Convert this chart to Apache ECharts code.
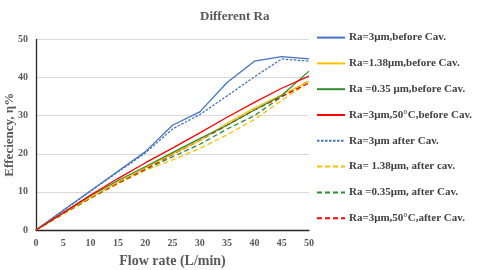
<!DOCTYPE html>
<html><head><meta charset="utf-8">
<script src="https://cdn.jsdelivr.net/npm/echarts@6/dist/echarts.min.js"></script>
<style>html,body{margin:0;padding:0;background:#fff}#c{width:480px;height:270px}</style>
</head><body><div id="c"></div>
<script>
const flow = [0,5,10,15,20,25,30,35,40,45,50];
const ra3Before    = [0,5.2,10.3,15.4,20.5,27.5,31.0,38.7,44.3,45.5,44.9];
const ra138Before  = [0,4.4,8.6,12.6,16.3,20.0,23.5,28.0,32.0,35.5,39.0];
const ra035Before  = [0,4.5,9.0,13.0,16.6,20.3,24.0,27.5,31.5,35.3,41.7];
const ra3T50Before = [0,4.6,9.2,13.5,17.6,21.5,25.5,29.6,33.5,37.2,40.4];
const ra3After     = [0,5.1,10.2,15.2,20.2,26.5,30.3,35.2,40.2,44.9,44.3];
const ra138After   = [0,4.2,8.3,12.1,15.6,18.4,21.4,25.0,29.0,34.0,38.8];
const ra035After   = [0,4.3,8.4,12.3,15.9,19.2,22.5,26.5,30.0,35.0,39.2];
const ra3T50After  = [0,4.3,8.5,12.4,16.0,19.8,23.5,27.5,31.5,35.0,38.6];
const names = [
  "Ra=3μm,before Cav.",
  "Ra=1.38μm,before Cav.",
  "Ra =0.35 μm,before Cav.",
  "Ra=3μm,50°C,before Cav.",
  "Ra=3μm after Cav.",
  "Ra= 1.38μm, after cav.",
  "Ra =0.35μm, after Cav.",
  "Ra=3μm,50°C,after Cav."
];
const seriesData = [ra3Before, ra138Before, ra035Before, ra3T50Before, ra3After, ra138After, ra035After, ra3T50After];
const colors = ['#4472C4','#FFC000','#2E8B2E','#FF0000','#4472C4','#FFC000','#2E8B2E','#FF0000'];
const dashes = ['solid','solid','solid','solid',[2.5,1.5],[5,3],[5,3],[5,3]];
const font = 'Liberation Serif';
const chart = echarts.init(document.getElementById('c'));
chart.setOption({
  animation:false,
  title:{text:'Different Ra',left:195,top:5,
    textStyle:{fontFamily:font,fontWeight:'bold',fontSize:13,color:'#595959'}},
  grid:{left:36,right:171,top:39.5,bottom:40,outerBoundsMode:'none',containLabel:false},
  legend:{orient:'vertical',left:311,top:27,itemWidth:28,itemHeight:14,itemGap:14.6,
    data:names,itemStyle:{opacity:0},
    textStyle:{fontFamily:font,fontWeight:'bold',fontSize:11,color:'#404040',padding:[0,0,0,-1]}},
  xAxis:{type:'value',min:0,max:50,interval:5,
    name:'Flow rate (L/min)',nameLocation:'middle',nameGap:24,
    nameTextStyle:{fontFamily:font,fontWeight:'bold',fontSize:14,color:'#595959'},
    axisLine:{lineStyle:{color:'#262626',width:1.3}},axisTick:{show:false},
    axisLabel:{fontFamily:font,fontWeight:'bold',fontSize:10,color:'#595959',margin:8},
    splitLine:{show:false}},
  yAxis:{type:'value',min:0,max:50,interval:10,
    name:'Effeciency, η%',nameLocation:'middle',nameGap:20,nameMoveOverlap:false,
    nameTextStyle:{fontFamily:font,fontWeight:'bold',fontSize:13,color:'#595959'},
    axisLine:{show:true,lineStyle:{color:'#262626',width:1.3}},axisTick:{show:false},
    axisLabel:{fontFamily:font,fontWeight:'bold',fontSize:10,color:'#595959',margin:8},
    splitLine:{lineStyle:{color:'#d9d9d9',width:1}}},
  series: seriesData.map((d,i)=>({
    name:names[i],type:'line',symbol:'none',
    data:flow.map((x,j)=>[x,d[j]]),
    color:colors[i],
    lineStyle:{color:colors[i],width:1.3,type:dashes[i]},
    z: i<4 ? 3 : 2
  }))
});
</script></body></html>
